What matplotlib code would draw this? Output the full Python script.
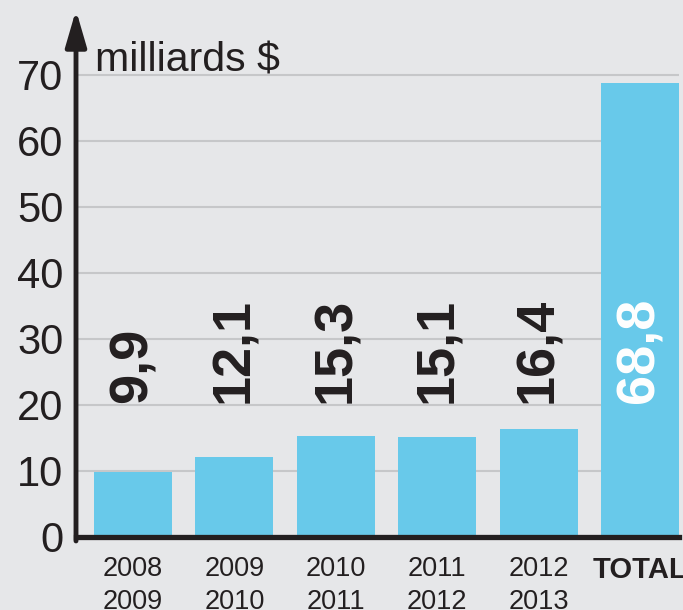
import matplotlib.pyplot as plt
import numpy as np

periods = ["2008\n2009", "2009\n2010", "2010\n2011", "2011\n2012", "2012\n2013", "TOTAL"]
values = [9.9, 12.1, 15.3, 15.1, 16.4, 68.8]
value_labels = ["9,9", "12,1", "15,3", "15,1", "16,4", "68,8"]
yticks = [0, 10, 20, 30, 40, 50, 60, 70]

bg = "#e6e7e9"
bar_color = "#68c9ea"
ink = "#231f20"
grid = "#c6c7c9"
fam = ["Liberation Sans", "DejaVu Sans"]

fig = plt.figure(figsize=(6.83, 6.10), dpi=100, facecolor=bg)
ax = fig.add_axes([76 / 683, 73 / 610, 603 / 683, 523 / 610])
ax.set_facecolor(bg)

x = np.arange(len(values))
ax.set_xlim(-0.562, 5.385)
ax.set_ylim(0, 79.2)

for t in yticks[1:]:
    ax.axhline(t, color=grid, lw=1.5, zorder=1)

ax.bar(x, values, width=0.77, color=bar_color, zorder=2)

for i, (v, lab) in enumerate(zip(values, value_labels)):
    col = "white" if periods[i] == "TOTAL" else ink
    ax.text(x[i], 20.3, lab, rotation=90, ha="center", va="bottom",
            fontsize=39, fontweight="bold", color=col, family=fam, zorder=3)

for s in ["top", "right", "left"]:
    ax.spines[s].set_visible(False)
ax.spines["bottom"].set_linewidth(3.8)
ax.spines["bottom"].set_color(ink)
ax.spines["bottom"].set_zorder(4)

# y axis with arrow on top
ax.annotate("", xy=(-0.562, 79.8), xytext=(-0.562, -0.6),
            xycoords="data", textcoords="data", annotation_clip=False,
            arrowprops=dict(arrowstyle="-|>,head_length=1.1,head_width=0.32",
                            lw=3.5, color=ink, mutation_scale=20,
                            shrinkA=0, shrinkB=0), zorder=5)

ax.set_yticks(yticks)
ax.set_yticklabels([str(t) for t in yticks], fontsize=30, color=ink, family=fam)
ax.tick_params(axis="y", length=0, pad=9)

ax.set_xticks(x)
ax.set_xticklabels(periods, fontsize=19.5, color=ink, family=fam, linespacing=1.32)
ax.tick_params(axis="x", length=0, pad=14)
tl = ax.get_xticklabels()[-1]
tl.set_fontweight("bold")
tl.set_fontsize(21)

ax.text(-0.375, 70.5, "milliards $", fontsize=29.5, color=ink, family=fam,
        ha="left", va="baseline", zorder=3)

fig.savefig("out.png", dpi=100, facecolor=bg)
